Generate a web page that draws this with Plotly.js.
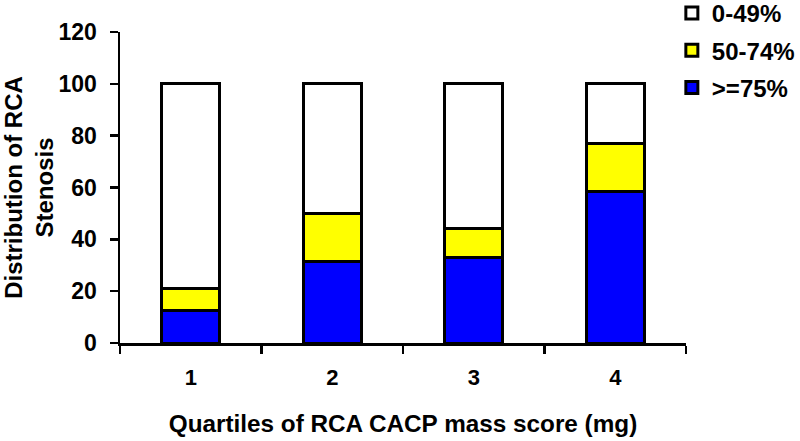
<!DOCTYPE html>
<html>
<head>
<meta charset="utf-8">
<script src="https://cdn.plot.ly/plotly-3.0.1.min.js"></script>
<style>html,body{margin:0;padding:0;background:#fff;}#chart{width:800px;height:441px;}</style>
</head>
<body>
<div id="chart"></div>
<script>
var categories = ["1", "2", "3", "4"];
var severe = [12.7, 31.4, 33.1, 58.4];      // >=75%
var moderate = [8.4, 18.7, 11.2, 18.4];     // 50-74%
var mild = [78.9, 49.9, 55.7, 23.2];        // 0-49%
var seriesNames = [">=75%", "50-74%", "0-49%"];
var yTicks = [0, 20, 40, 60, 80, 100, 120];

var FONT = "Liberation Sans, Arial, sans-serif";
var colors = ["#0000ff", "#ffff00", "#ffffff"];
var values = [severe, moderate, mild];

var traces = values.map(function (v, i) {
  return {
    type: "bar",
    x: categories,
    y: v,
    name: seriesNames[i],
    legendgroup: "g" + i,
    legendrank: 3 - i,
    width: 0.41,
    marker: {color: colors[i], line: {color: "#000", width: 3}},
    hoverinfo: "skip"
  };
});

var layout = {
  width: 800, height: 441,
  margin: {l: 120, r: 114, t: 32, b: 98, autoexpand: false},
  paper_bgcolor: "#fff", plot_bgcolor: "#fff",
  barmode: "stack",
  font: {family: FONT, size: 22, color: "#000", weight: "bold"},
  xaxis: {
    type: "category",
    range: [-0.5, 3.5],
    showline: true, linecolor: "#000", linewidth: 2.5,
    ticks: "outside", tickson: "boundaries", ticklen: 8, tickwidth: 2.5, tickcolor: "#000",
    ticklabelstandoff: 13,
    tickfont: {family: FONT, size: 22, color: "#000", weight: "bold"},
    showgrid: false, zeroline: false, automargin: false,
    title: {text: "Quartiles of RCA CACP mass score (mg)\u00a0\u00a0\u00a0", font: {family: FONT, size: 24.3, color: "#000", weight: "bold"}, standoff: 26}
  },
  yaxis: {
    range: [0, 120],
    tickvals: yTicks,
    ticktext: yTicks.map(String),
    showline: true, linecolor: "#000", linewidth: 2.5,
    ticks: "outside", ticklen: 8, tickwidth: 2.5, tickcolor: "#000",
    ticklabelstandoff: 8,
    tickfont: {family: FONT, size: 23, color: "#000", weight: "bold"},
    showgrid: false, zeroline: false, automargin: false,
    title: {text: "Distribution of RCA<br>Stenosis", font: {family: FONT, size: 24, color: "#000", weight: "bold"}, standoff: 6}
  },
  legend: {
    x: 0.975, xanchor: "left", y: 1.132, yanchor: "top",
    traceorder: "grouped",
    tracegroupgap: 3,
    itemwidth: 30,
    font: {family: FONT, size: 24, color: "#000", weight: "bold"},
    bgcolor: "rgba(0,0,0,0)"
  },
  showlegend: true
};

Plotly.newPlot("chart", traces, layout, {staticPlot: true, displayModeBar: false});
</script>
</body>
</html>
